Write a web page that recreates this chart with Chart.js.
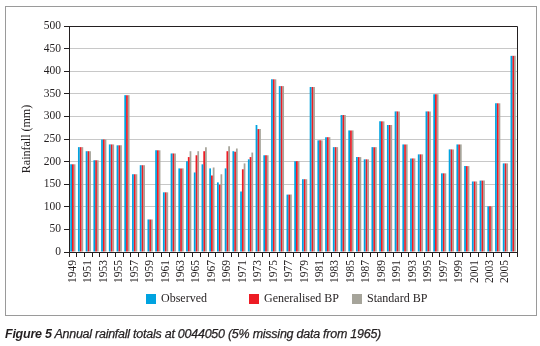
<!DOCTYPE html>
<html>
<head>
<meta charset="utf-8">
<script src="https://cdn.jsdelivr.net/npm/chart.js@4.4.0/dist/chart.umd.min.js"></script>
<style>
    body { margin: 0; width: 540px; height: 346px; background: #fff; position: relative; overflow: hidden; }
    #frame { position: absolute; left: 5px; top: 6px; width: 530px; height: 308px; border: 1px solid #9a9a9a; pointer-events: none; }
    #rainfallChart { position: absolute; left: 0; top: 0; }
    #rainfallLegend ul { position: absolute; left: 146px; top: 291px; margin: 0; padding: 0; list-style: none; display: flex; }
    #rainfallLegend li { width: 103px; display: flex; align-items: center; font: 12px "Liberation Serif", serif; color: #231f20; }
    #rainfallLegend li span { display: inline-block; width: 10px; height: 10px; margin-right: 5px; }
    #rainfallLegend li p { margin: 0; }
    #caption { position: absolute; left: 5px; top: 327px; font: italic 12.5px "Liberation Sans", sans-serif; letter-spacing: -0.25px; -webkit-text-stroke: 0.25px #231f20; color: #231f20; white-space: nowrap; }
    #caption b { font-weight: 700; -webkit-text-stroke: 0; }
</style>
</head>
<body>
<div id="frame"></div>
<canvas id="rainfallChart" width="540" height="346"></canvas>
<div id="rainfallLegend"></div>
<div id="caption"><b>Figure 5</b> Annual rainfall totals at 0044050 (5% missing data from 1965)</div>
<script>
'use strict'

const years = ['1949', '1950', '1951', '1952', '1953', '1954', '1955', '1956', '1957', '1958',
    '1959', '1960', '1961', '1962', '1963', '1964', '1965', '1966', '1967', '1968',
    '1969', '1970', '1971', '1972', '1973', '1974', '1975', '1976', '1977', '1978',
    '1979', '1980', '1981', '1982', '1983', '1984', '1985', '1986', '1987', '1988',
    '1989', '1990', '1991', '1992', '1993', '1994', '1995', '1996', '1997', '1998',
    '1999', '2000', '2001', '2002', '2003', '2004', '2005', '2006'];

const observed = [194, 232, 223, 203, 249, 238, 236, 347, 172, 192,
    72, 225, 132, 218, 185, 201, 176, 194, 185, 154,
    185, 223, 134, 205, 281, 214, 382, 367, 127, 201,
    161, 365, 247, 254, 232, 303, 269, 210, 205, 232,
    289, 281, 311, 238, 207, 216, 311, 349, 174, 227,
    238, 190, 156, 158, 101, 329, 196, 434];

const generalisedBP = [194, 232, 223, 203, 249, 238, 236, 347, 172, 192,
    72, 225, 132, 218, 185, 210, 214, 223, 169, 149,
    223, 222, 183, 210, 272, 214, 382, 367, 127, 201,
    161, 365, 247, 254, 232, 303, 269, 210, 205, 232,
    289, 281, 311, 238, 207, 216, 311, 349, 174, 227,
    238, 190, 156, 158, 101, 329, 196, 434];

const standardBP = [194, 232, 223, 203, 249, 238, 236, 347, 172, 192,
    72, 225, 132, 218, 185, 223, 223, 232, 187, 172,
    234, 229, 196, 220, 272, 214, 382, 367, 127, 201,
    161, 365, 247, 254, 232, 303, 269, 210, 205, 232,
    289, 281, 311, 238, 207, 216, 311, 349, 174, 227,
    238, 190, 156, 158, 101, 329, 196, 434];

const ink = '#231f20';
const serif = '"Liberation Serif", "DejaVu Serif", serif';

// Black line on top and right of the plot area
const plotBoxPlugin = {
    id: 'plotBox',
    afterDraw(chart) {
        const { ctx, chartArea } = chart;
        ctx.save();
        ctx.strokeStyle = ink;
        ctx.lineWidth = 1;
        ctx.beginPath();
        ctx.moveTo(Math.round(chartArea.left) + 0.5, Math.round(chartArea.top) + 0.5);
        ctx.lineTo(Math.round(chartArea.right) + 0.5, Math.round(chartArea.top) + 0.5);
        ctx.lineTo(Math.round(chartArea.right) + 0.5, Math.round(chartArea.bottom) + 0.5);
        ctx.stroke();
        ctx.restore();
    }
};

// HTML legend, fixed columns under the axis labels
const htmlLegendPlugin = {
    id: 'htmlLegend',
    afterUpdate(chart, args, options) {
        const container = document.getElementById(options.containerID);
        let ul = container.querySelector('ul');
        if (!ul) {
            ul = document.createElement('ul');
            container.appendChild(ul);
        }
        while (ul.firstChild) {
            ul.firstChild.remove();
        }
        const items = chart.options.plugins.legend.labels.generateLabels(chart);
        items.forEach(item => {
            const li = document.createElement('li');
            const boxSpan = document.createElement('span');
            boxSpan.style.background = item.fillStyle;
            const textContainer = document.createElement('p');
            textContainer.appendChild(document.createTextNode(item.text));
            li.appendChild(boxSpan);
            li.appendChild(textContainer);
            ul.appendChild(li);
        });
    }
};

new Chart(document.querySelector('#rainfallChart'), {
    type: 'bar',
    data: {
        labels: years,
        datasets: [
            { label: 'Observed', data: observed, backgroundColor: '#00a3e0' },
            { label: 'Generalised BP', data: generalisedBP, backgroundColor: '#ed1c24' },
            { label: 'Standard BP', data: standardBP, backgroundColor: '#a6a49a' }
        ]
    },
    options: {
        responsive: false,
        animation: false,
        datasets: {
            bar: { categoryPercentage: 0.68, barPercentage: 1, borderWidth: 0 }
        },
        layout: {
            padding: { top: 26, right: 23, bottom: 58, left: 0 }
        },
        scales: {
            x: {
                afterFit(scale) { scale.height = 36; },
                grid: { offset: true, drawOnChartArea: false, tickLength: 5, tickColor: ink },
                border: { color: ink, width: 1 },
                ticks: {
                    autoSkip: false,
                    maxRotation: 90,
                    minRotation: 90,
                    padding: 3,
                    color: ink,
                    font: { family: serif, size: 11.5 },
                    callback: function (value, index) {
                        return index % 2 === 0 ? years[index] : '';
                    }
                }
            },
            y: {
                min: 0,
                max: 500,
                afterFit(scale) { scale.width = 69; },
                grid: { color: '#c8c8c8', tickLength: 5, tickColor: ink },
                border: { color: ink, width: 1 },
                ticks: { stepSize: 50, padding: 3, color: ink, font: { family: serif, size: 11.5 } },
                title: {
                    display: true,
                    text: 'Rainfall (mm)',
                    color: ink,
                    font: { family: serif, size: 12 },
                    padding: { top: 20, bottom: 0 }
                }
            }
        },
        plugins: {
            htmlLegend: { containerID: 'rainfallLegend' },
            legend: { display: false },
            tooltip: { enabled: false }
        }
    },
    plugins: [plotBoxPlugin, htmlLegendPlugin]
});
</script>
</body>
</html>
